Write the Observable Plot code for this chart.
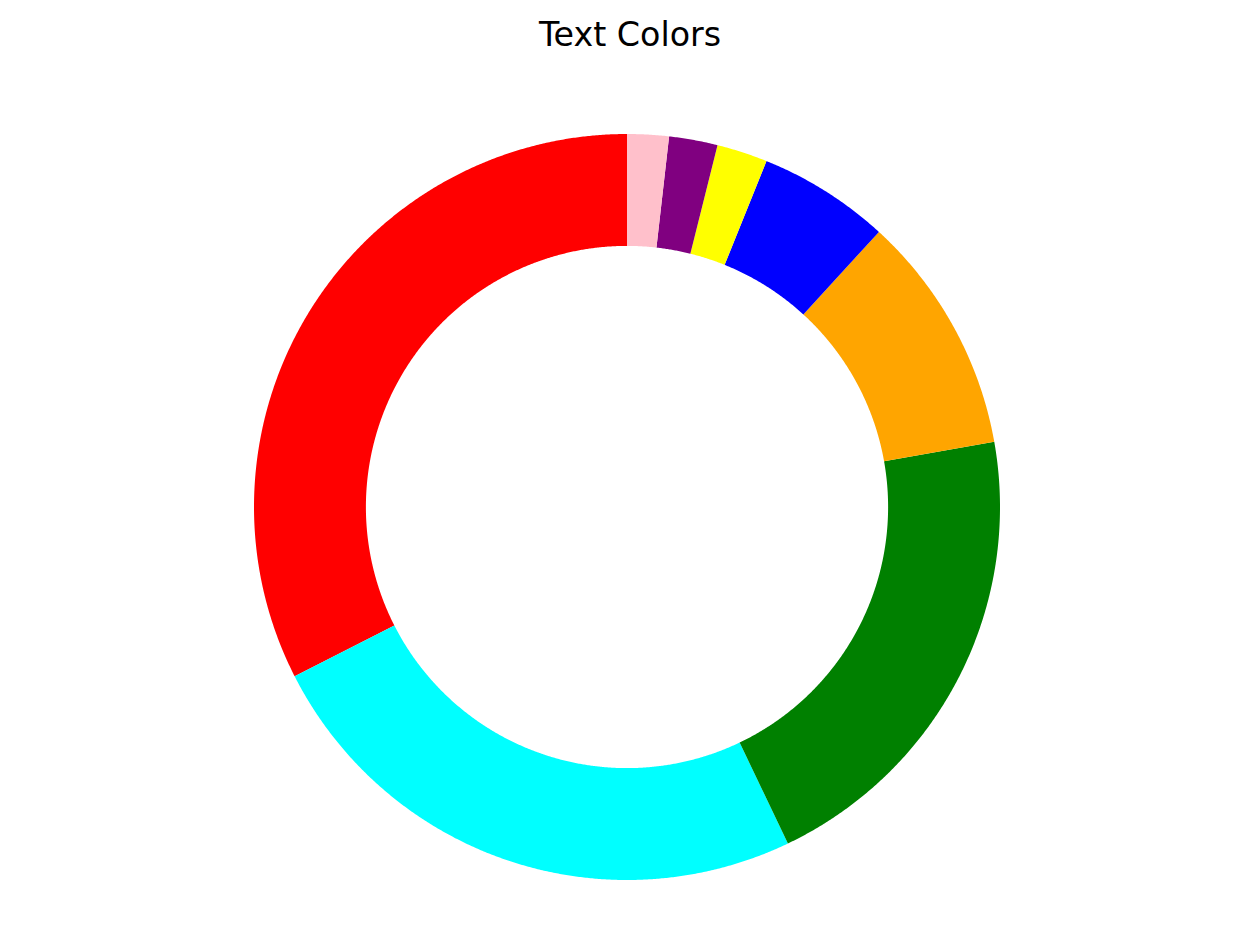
<!DOCTYPE html>
<html>
<head>
<meta charset="utf-8">
<script src="https://cdn.jsdelivr.net/npm/d3@7"></script>
<script src="https://cdn.jsdelivr.net/npm/@observablehq/plot@0.6"></script>
<style>
  html, body { margin: 0; padding: 0; background: #fff; }
  #title { width: 1260px; height: 70px; line-height: 70px; text-align: center;
           font-family: "DejaVu Sans", sans-serif; font-size: 33.3px; color: #000; }
</style>
</head>
<body>
<div id="title">Text Colors</div>
<div id="chart"></div>
<script>
// Data (counter-clockwise from 12 o'clock)
const categories = ["red", "cyan", "green", "orange", "blue", "yellow", "purple", "pink"];
const values = [32.5, 24.6, 20.7, 10.4, 5.7, 2.2, 2.1, 1.8];
const sliceColors = ["red", "cyan", "green", "orange", "blue", "yellow", "purple", "pink"];

const outerR = 1.0;
const innerR = 0.7;

const slices = categories.map((c, i) => ({name: c, value: values[i], color: sliceColors[i]}));
const arcs = d3.pie().sort(null).value(d => d.value).startAngle(0).endAngle(-2 * Math.PI)(slices);

// Build ring polygons from pie angles
const pts = [];
for (const a of arcs) {
  const a0 = a.startAngle, a1 = a.endAngle;
  const n = Math.max(4, Math.ceil(Math.abs(a1 - a0) / (Math.PI / 720)));
  for (let k = 0; k <= n; k++) {
    const t = a0 + (a1 - a0) * k / n;
    pts.push({name: a.data.name, color: a.data.color, x: outerR * Math.sin(t), y: outerR * Math.cos(t)});
  }
  for (let k = n; k >= 0; k--) {
    const t = a0 + (a1 - a0) * k / n;
    pts.push({name: a.data.name, color: a.data.color, x: innerR * Math.sin(t), y: innerR * Math.cos(t)});
  }
}

const chart = Plot.plot({
  width: 1260,
  height: 880,
  marginLeft: 253.5,
  marginRight: 260.5,
  marginTop: 63.5,
  marginBottom: 70.5,
  x: {domain: [-1, 1], axis: null},
  y: {domain: [-1, 1], axis: null},
  color: {type: "identity"},
  marks: [
    Plot.line(pts, {x: "x", y: "y", z: "name", fill: "color", stroke: "none", curve: "linear"})
  ]
});
document.getElementById("chart").appendChild(chart);
</script>
</body>
</html>
